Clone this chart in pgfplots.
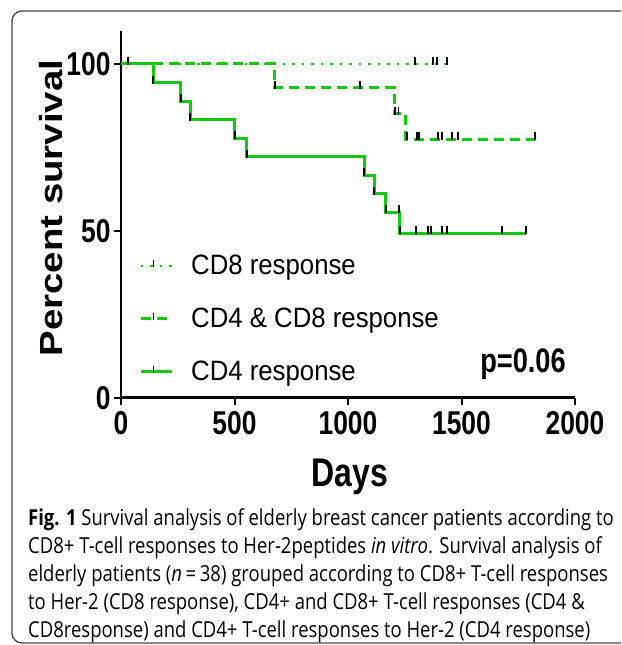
\documentclass[border=0pt]{standalone}
\usepackage{pgfplots}
\pgfplotsset{compat=1.18}
\usepackage{fontspec}
\setmainfont{Liberation Sans}
\newfontfamily\condbf[FakeStretch=0.8]{Liberation Sans Bold}
\newfontfamily\ylabfont[FakeStretch=1.2]{Liberation Sans Bold}
\newfontfamily\legfont[FakeStretch=0.92]{Liberation Sans}
\newfontfamily\capfont[FakeStretch=0.84]{Open Sans}
\definecolor{kmgreen}{RGB}{20,200,20}
\definecolor{framegray}{RGB}{70,70,70}
\pgfdeclareplotmark{cens}{\pgfpathmoveto{\pgfqpoint{0pt}{-1pt}}\pgfpathlineto{\pgfqpoint{0pt}{7pt}}\pgfusepathqstroke}

\begin{document}
\begin{tikzpicture}[x=1pt,y=1pt]
\useasboundingbox (0,0) rectangle (621,645);
\begin{scope}
\clip (0,0) rectangle (621,645);
\draw[framegray, line width=1.3pt, rounded corners=10pt] (12,2) rectangle (660,634);
\end{scope}
\begin{axis}[
  at={(121pt,247pt)}, anchor=south west,
  scale only axis, width=454pt, height=367.4pt,
  xmin=0, xmax=2000, ymin=0, ymax=110,
  axis x line=bottom, axis y line=left,
  axis line style={-, line width=2.2pt},
  x axis line style={line width=3pt},
  xtick={0,500,1000,1500,2000}, xticklabels={0,500,1000,1500,2000},
  ytick={0,50,100}, yticklabels={0,50,100},
  tick align=outside, major tick length=7pt,
  every tick/.style={black, line width=2pt},
  ticklabel style={font=\condbf\fontsize{33}{33}\selectfont},
  xticklabel style={yshift=-3pt},
  clip=false,
  legend cell align=left,
  legend style={at={(0.033,0.397)}, anchor=north west, draw=none, fill=none,
    font=\legfont\fontsize{28}{28}\selectfont, row sep=30pt, column sep=17pt,
    nodes={inner sep=1pt}},
  legend image code/.code={\draw[#1] (0pt,0pt) -- (31pt,0pt);
     \draw[black, line width=1.5pt, solid] (13pt,-1pt) -- (13pt,6pt);},
]
\addplot[kmgreen, line width=2.6pt, dash pattern=on 2.5pt off 7pt] coordinates {(0,100) (1436,100)};
\addlegendentry{CD8 response}
\addplot[kmgreen, line width=3pt, dash pattern=on 10pt off 6pt, const plot] coordinates {
 (0,100) (678,92.9) (1207,85.1) (1255,77.4) (1824,77.4)};
\addlegendentry{CD4 \& CD8 response}
\addplot[kmgreen, line width=3pt, const plot] coordinates {
 (0,100) (141,94.4) (264,88.9) (304,83.3) (502,77.8) (555,72.2) (1071,66.7) (1115,61.1) (1167,55.6) (1229,49.4) (1784,49.4)};
\addlegendentry{CD4 response}
% censor marks
\addplot[forget plot, only marks, mark=cens, mark options={black, line width=1.6pt, solid}] coordinates {
 (31,100) (1295,100) (1374,100) (1392,100) (1436,100)};
\addplot[forget plot, only marks, mark=cens, mark options={black, line width=1.6pt, solid}] coordinates {
 (678,92.9) (1053,92.9) (1207,85.1) (1222,85.1) (1260,77.4) (1304,77.4) (1313,77.4) (1396,77.4) (1414,77.4) (1458,77.4) (1485,77.4) (1824,77.4)};
\addplot[forget plot, only marks, mark=cens, mark options={black, line width=1.6pt, solid}] coordinates {
 (141,94.4) (264,88.9) (304,83.3) (502,77.8) (555,72.2) (1071,66.7) (1115,61.1) (1167,55.6) (1225,55.6)
 (1229,49.4) (1300,49.4) (1352,49.4) (1366,49.4) (1414,49.4) (1436,49.4) (1678,49.4) (1784,49.4)};
\end{axis}
\node[font=\ylabfont\fontsize{32}{32}\selectfont, rotate=90, anchor=base] at (62,437) {Percent survival};
\node[font=\condbf\fontsize{40}{40}\selectfont, anchor=base] at (350,158) {Days};
\node[font=\condbf\fontsize{34}{34}\selectfont, anchor=base] at (523,272) {p=0.06};
\begin{scope}[every node/.style={anchor=base west, inner sep=0pt, font=\capfont\fontsize{22}{22}\selectfont}]
\node at (28,119) {\textbf{Fig. 1} Survival analysis of elderly breast cancer patients according to};
\node at (28,91) {CD8+ T-cell responses to Her-2peptides \textit{in vitro}. Survival analysis of};
\node at (28,63) {elderly patients (\textit{n}\,=\,38) grouped according to CD8+ T-cell responses};
\node at (28,35) {to Her-2 (CD8 response), CD4+ and CD8+ T-cell responses (CD4 \&};
\node at (28,7) {CD8response) and CD4+ T-cell responses to Her-2 (CD4 response)};
\end{scope}
\end{tikzpicture}
\end{document}
